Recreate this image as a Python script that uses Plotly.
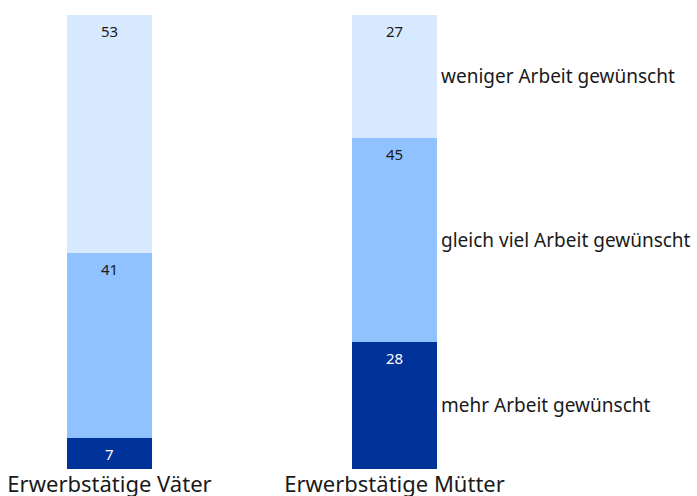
import plotly.graph_objects as go

# data
groups = ["Erwerbstätige Väter", "Erwerbstätige Mütter"]
series = ["mehr Arbeit gewünscht", "gleich viel Arbeit gewünscht", "weniger Arbeit gewünscht"]
mehr = [7, 28]
gleich = [41, 45]
weniger = [53, 27]

colors = ["#003399", "#8FC2FF", "#D6E9FF"]
text_colors = ["white", "#1a1a1a", "#1a1a1a"]
values = [mehr, gleich, weniger]

fig = go.Figure()
for name, vals, col in zip(series, values, colors):
    fig.add_trace(go.Bar(
        x=[0, 1], y=vals, name=name, marker_color=col,
        marker_line_width=0, width=0.298, showlegend=False,
    ))

# value labels near the top of each segment (in percent of the bar total)
totals = [sum(v[i] for v in values) for i in range(2)]
for i in range(2):
    cum = 0
    for vals, tcol in zip(values, text_colors):
        cum += vals[i]
        fig.add_annotation(
            x=i, y=cum / totals[i] * 100, text=str(vals[i]), showarrow=False,
            yanchor="middle", yshift=-16,
            font=dict(size=15, color=tcol, family="Noto Sans"),
        )

# series labels next to the second bar, at the middle of each segment
cum = 0
for name, vals in zip(series, values):
    mid = (cum + vals[1] / 2) / totals[1] * 100
    cum += vals[1]
    fig.add_annotation(
        x=1 + 0.149, y=mid, text=name, showarrow=False,
        xanchor="left", yanchor="middle", xshift=2,
        font=dict(size=19, color="#1a1a1a", family="Noto Sans"),
    )

fig.update_layout(
    barmode="stack", barnorm="percent",
    width=697, height=496,
    margin=dict(l=0, r=0, t=15, b=27),
    plot_bgcolor="white", paper_bgcolor="white",
    font=dict(family="Noto Sans", color="#1a1a1a"),
)
fig.update_xaxes(
    range=[-109.5 / 285, (697 - 109.5) / 285],
    tickvals=[0, 1], ticktext=groups, automargin=False,
    tickfont=dict(size=22), showgrid=False, zeroline=False,
    showline=False, ticks="",
)
fig.update_yaxes(range=[0, 100], visible=False, showgrid=False, automargin=False)

# drop the default page margin so the figure sits at the window's corner
fig.write_html("out.html", config={"displayModeBar": False},
               post_script="document.body.style.margin='0';")
